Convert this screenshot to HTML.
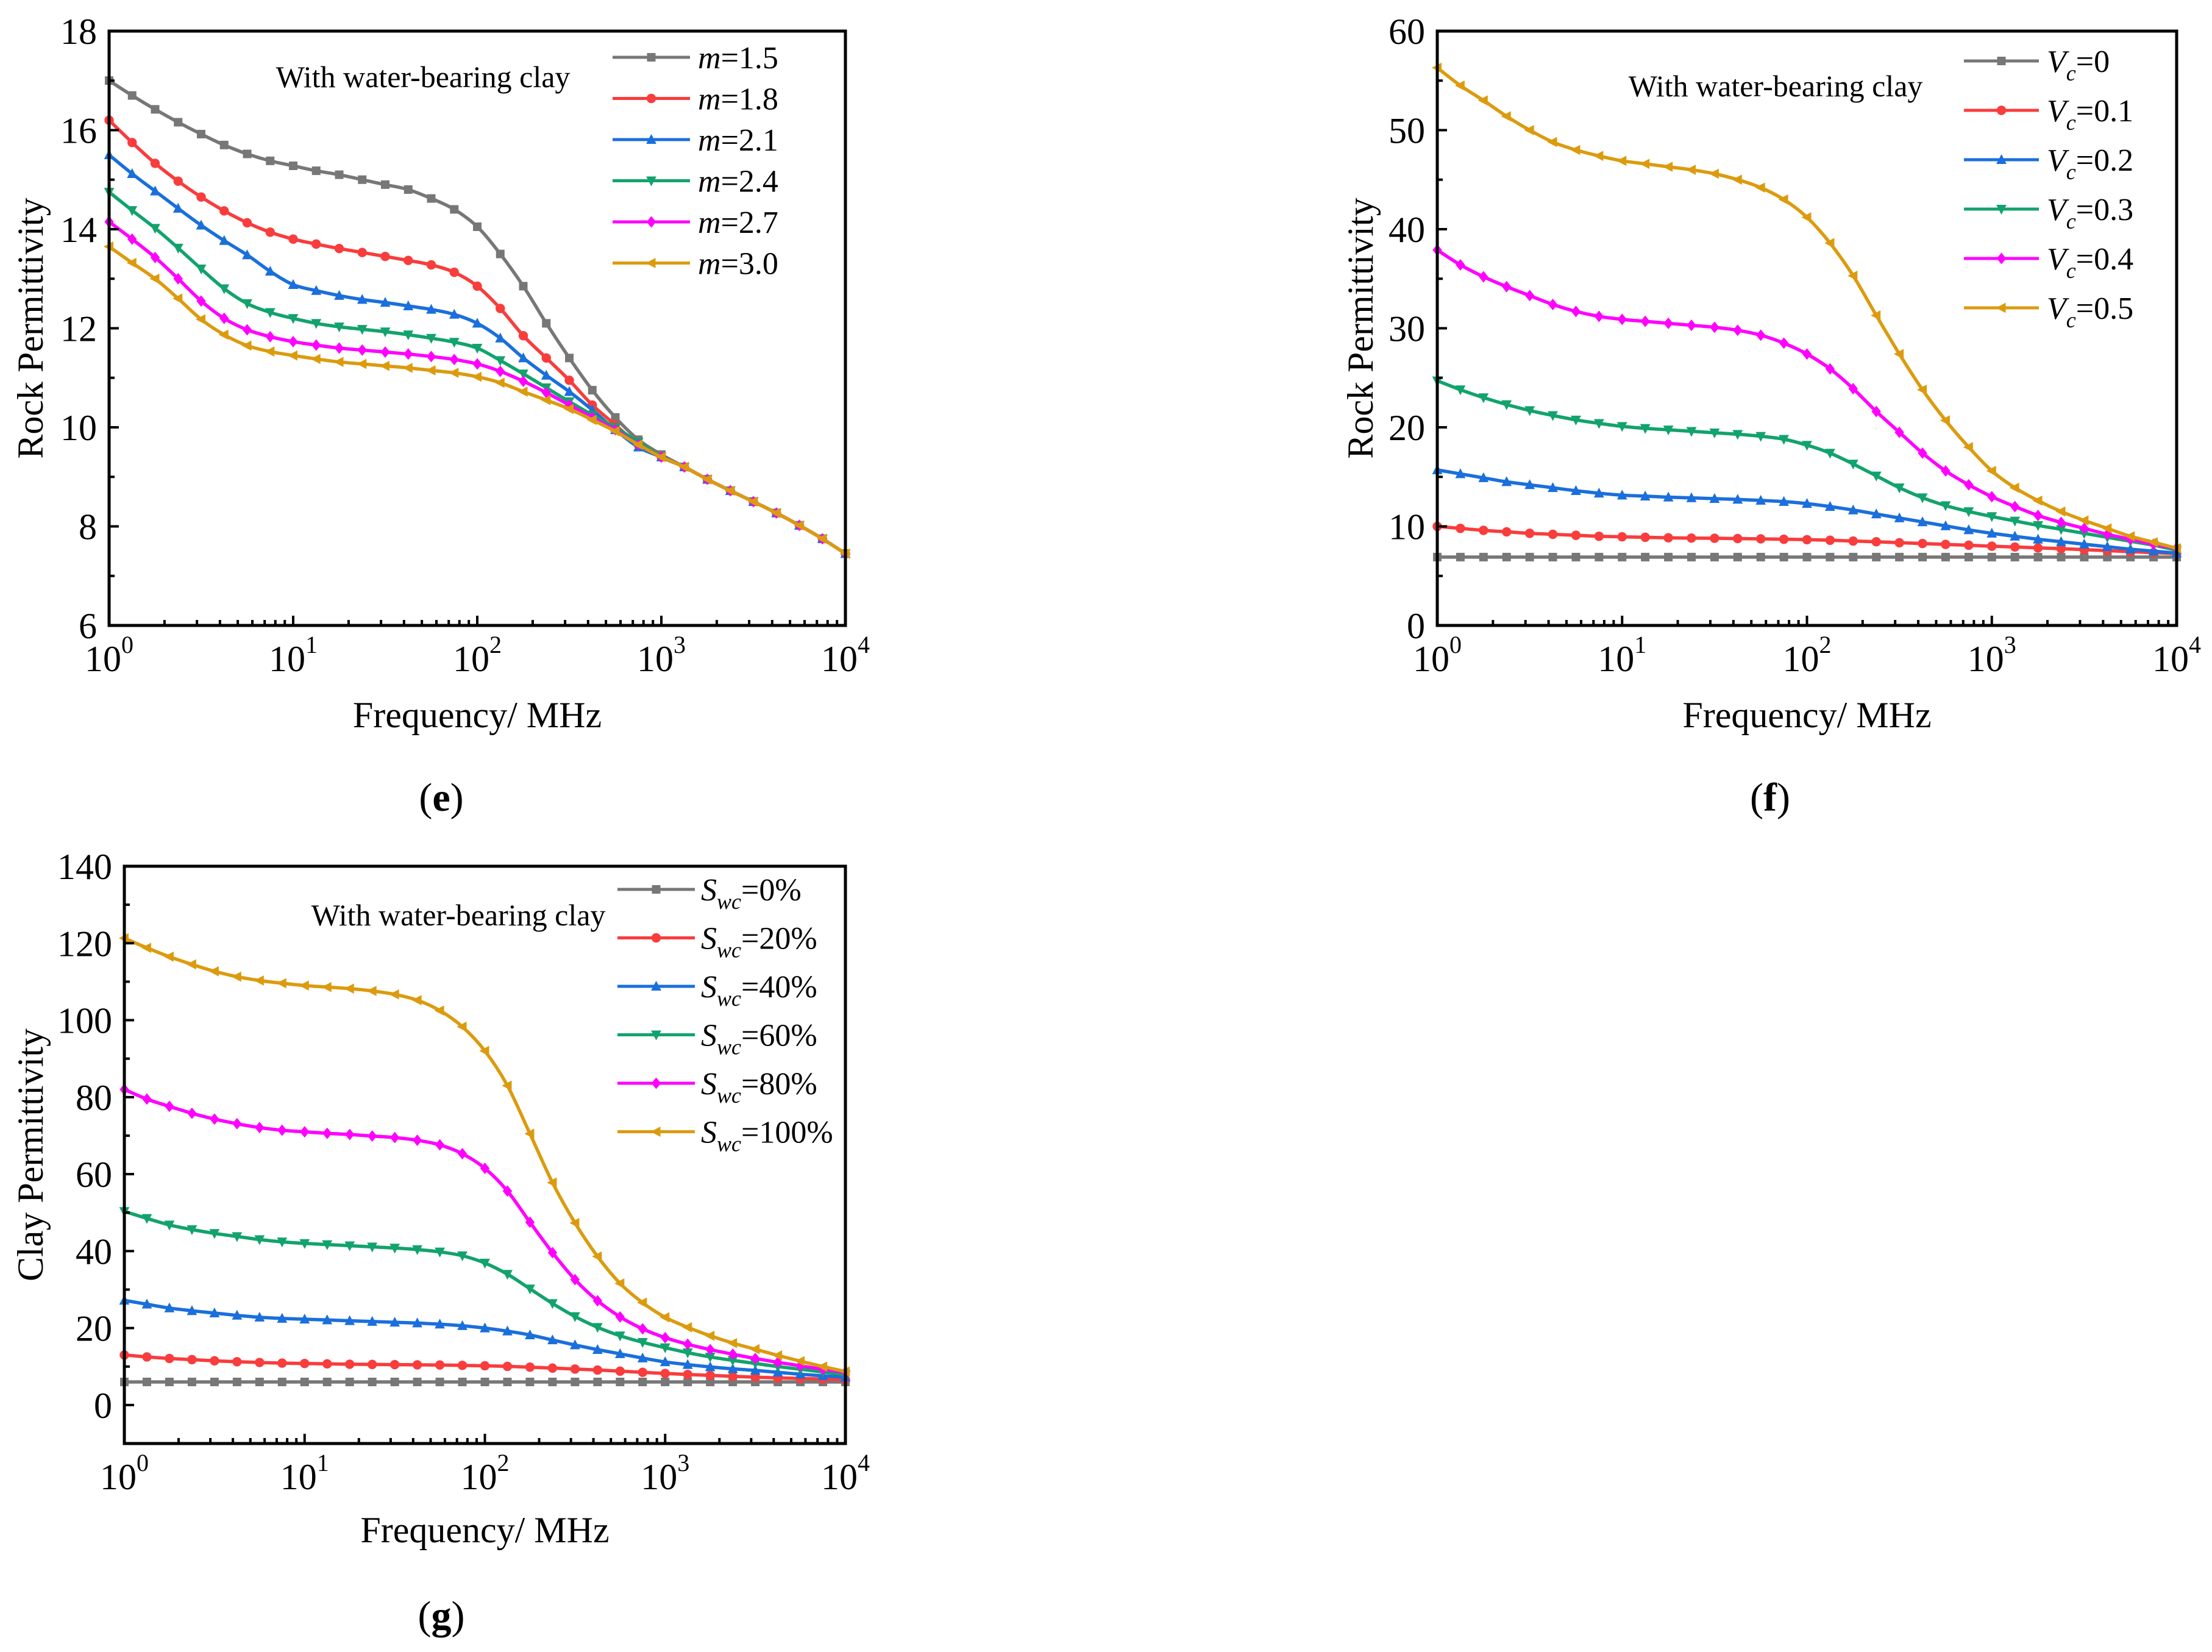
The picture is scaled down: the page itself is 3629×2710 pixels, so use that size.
<!DOCTYPE html>
<html><head><meta charset="utf-8"><style>
html,body{margin:0;padding:0;background:#fff;}
svg{display:block;font-family:"Liberation Serif","Times New Roman",serif;}
</style></head><body>
<svg id="fig" width="3629" height="2710" viewBox="0 0 3629 2710" xmlns="http://www.w3.org/2000/svg"></svg>
<script>
// frequency exponents (log10 MHz) of data points
const freqExp = [0,0.125,0.25,0.375,0.5,0.625,0.75,0.875,1,1.125,1.25,1.375,1.5,1.625,1.75,1.875,2,2.125,2.25,2.375,2.5,2.625,2.75,2.875,3,3.125,3.25,3.375,3.5,3.625,3.75,3.875,4];
const xTickExp = [0,1,2,3,4];

// Panel e
const eLabels = ["1.5","1.8","2.1","2.4","2.7","3.0"];
const eM15 = [17.0,16.7,16.42,16.16,15.92,15.7,15.52,15.38,15.28,15.18,15.1,15.0,14.9,14.8,14.62,14.4,14.05,13.5,12.85,12.1,11.4,10.75,10.2,9.75,9.45,9.2,8.95,8.72,8.5,8.27,8.02,7.75,7.45];
const eM18 = [16.2,15.75,15.33,14.97,14.65,14.37,14.13,13.94,13.8,13.7,13.61,13.53,13.45,13.37,13.28,13.13,12.85,12.4,11.85,11.4,10.95,10.45,10.05,9.65,9.4,9.2,8.95,8.72,8.5,8.27,8.02,7.75,7.45];
const eM21 = [15.5,15.12,14.77,14.42,14.08,13.77,13.48,13.15,12.88,12.76,12.66,12.58,12.52,12.45,12.38,12.28,12.1,11.8,11.4,11.05,10.72,10.35,9.95,9.6,9.4,9.2,8.95,8.72,8.5,8.27,8.02,7.75,7.45];
const eM24 = [14.75,14.38,14.02,13.62,13.2,12.8,12.5,12.32,12.2,12.1,12.03,11.98,11.93,11.87,11.8,11.72,11.6,11.35,11.08,10.8,10.52,10.25,10.0,9.7,9.4,9.2,8.95,8.72,8.5,8.27,8.02,7.75,7.45];
const eM27 = [14.15,13.8,13.43,13.0,12.55,12.2,11.97,11.83,11.73,11.66,11.6,11.56,11.52,11.48,11.43,11.37,11.28,11.13,10.93,10.7,10.45,10.2,9.95,9.65,9.4,9.2,8.95,8.72,8.5,8.27,8.02,7.75,7.45];
const eM30 = [13.65,13.32,13.0,12.6,12.18,11.87,11.65,11.53,11.45,11.38,11.32,11.28,11.24,11.2,11.15,11.1,11.02,10.9,10.72,10.55,10.37,10.15,9.92,9.65,9.4,9.2,8.95,8.72,8.5,8.27,8.02,7.75,7.45];
const eYTicks = [6,8,10,12,14,16,18];

// Panel f
const fLabels = ["0","0.1","0.2","0.3","0.4","0.5"];
const fV0 = [6.9,6.9,6.9,6.9,6.9,6.9,6.9,6.9,6.9,6.9,6.9,6.9,6.9,6.9,6.9,6.9,6.9,6.9,6.9,6.9,6.9,6.9,6.9,6.9,6.9,6.9,6.9,6.9,6.9,6.9,6.9,6.9,6.9];
const fV1 = [10.0,9.8,9.6,9.45,9.3,9.2,9.1,9.0,8.95,8.9,8.85,8.82,8.8,8.77,8.74,8.7,8.66,8.6,8.52,8.45,8.35,8.27,8.18,8.1,8.0,7.92,7.83,7.75,7.65,7.55,7.45,7.35,7.25];
const fV2 = [15.7,15.3,14.9,14.5,14.2,13.9,13.6,13.35,13.15,13.05,12.95,12.88,12.8,12.72,12.62,12.5,12.3,12.0,11.65,11.25,10.85,10.45,10.05,9.65,9.3,9.0,8.7,8.45,8.2,7.95,7.7,7.5,7.3];
const fV3 = [24.7,23.8,23.0,22.3,21.7,21.2,20.75,20.4,20.1,19.9,19.75,19.6,19.45,19.3,19.1,18.8,18.2,17.4,16.3,15.1,13.9,12.9,12.1,11.5,11.0,10.55,10.1,9.7,9.3,8.9,8.5,8.1,7.6];
const fV4 = [37.9,36.4,35.2,34.2,33.3,32.4,31.7,31.2,30.9,30.7,30.5,30.3,30.1,29.8,29.3,28.5,27.4,25.9,23.9,21.6,19.5,17.4,15.6,14.2,13.0,12.0,11.1,10.4,9.8,9.2,8.7,8.2,7.8];
const fV5 = [56.3,54.5,53.0,51.4,50.0,48.8,48.0,47.4,46.9,46.6,46.3,46.0,45.6,45.0,44.2,43.0,41.2,38.6,35.3,31.3,27.4,23.8,20.7,18.0,15.6,13.9,12.6,11.5,10.6,9.8,9.0,8.4,7.8];
const fYTicks = [0,10,20,30,40,50,60];

// Panel g
const gLabels = ["0%","20%","40%","60%","80%","100%"];
const gS0 = [6.0,6.0,6.0,6.0,6.0,6.0,6.0,6.0,6.0,6.0,6.0,6.0,6.0,6.0,6.0,6.0,6.0,6.0,6.0,6.0,6.0,6.0,6.0,6.0,6.0,6.0,6.0,6.0,6.0,6.0,6.0,6.0,6.0];
const gS20 = [13.0,12.5,12.1,11.8,11.5,11.25,11.05,10.9,10.8,10.7,10.6,10.55,10.5,10.45,10.4,10.3,10.2,10.05,9.85,9.6,9.35,9.1,8.8,8.5,8.2,7.95,7.7,7.45,7.25,7.05,6.9,6.75,6.6];
const gS40 = [27.2,26.2,25.2,24.5,23.9,23.3,22.8,22.5,22.3,22.1,21.9,21.7,21.5,21.3,21.0,20.6,20.0,19.2,18.2,16.9,15.6,14.4,13.3,12.2,11.2,10.5,9.9,9.4,9.0,8.5,8.0,7.6,7.2];
const gS60 = [50.3,48.5,46.8,45.6,44.6,43.8,43.0,42.4,42.0,41.7,41.4,41.1,40.8,40.4,39.8,38.8,36.9,34.0,30.2,26.4,23.0,20.2,18.0,16.3,14.9,13.6,12.5,11.6,10.8,10.0,9.3,8.6,7.9];
const gS80 = [82.0,79.5,77.6,75.8,74.3,73.1,72.1,71.4,71.0,70.6,70.3,69.9,69.5,68.8,67.6,65.3,61.5,55.6,47.5,39.6,32.6,27.1,22.9,19.8,17.5,15.8,14.4,13.2,12.1,11.1,10.2,9.3,8.5];
const gS100 = [121.3,118.8,116.5,114.5,112.7,111.3,110.3,109.6,109.0,108.6,108.2,107.6,106.7,105.2,102.5,98.3,92.0,83.0,70.5,57.8,47.3,38.6,31.6,26.6,22.8,20.2,18.0,16.1,14.5,12.9,11.4,10.0,8.7];
const gYTicks = [0,20,40,60,80,100,120,140];

const colors = ["#777777","#f93c3c","#1a6fdc","#12a36c","#ff00ff","#dc9b0e"];
const shapes = ["square","circle","up","down","diamond","left"];
const NS = "http://www.w3.org/2000/svg";
const svg = document.getElementById('fig');

function mk(tag, attrs, parent){
  const el = document.createElementNS(NS, tag);
  for (const k in attrs) el.setAttribute(k, attrs[k]);
  (parent||svg).appendChild(el);
  return el;
}

function marker(g, shape, x, y, c, r){
  let el;
  if (shape==="square") el = mk('rect',{x:x-r,y:y-r,width:2*r,height:2*r,fill:c},g);
  else if (shape==="circle") el = mk('circle',{cx:x,cy:y,r:r*1.1,fill:c},g);
  else if (shape==="up") el = mk('polygon',{points:`${x},${y-r*1.3} ${x-r*1.2},${y+r} ${x+r*1.2},${y+r}`,fill:c},g);
  else if (shape==="down") el = mk('polygon',{points:`${x},${y+r*1.3} ${x-r*1.2},${y-r} ${x+r*1.2},${y-r}`,fill:c},g);
  else if (shape==="diamond") el = mk('polygon',{points:`${x},${y-r*1.35} ${x+r*1.1},${y} ${x},${y+r*1.35} ${x-r*1.1},${y}`,fill:c},g);
  else el = mk('polygon',{points:`${x-r*1.3},${y} ${x+r},${y-r*1.2} ${x+r},${y+r*1.2}`,fill:c},g);
  
  
  return el;
}

function smoothPath(pts){
  let d = `M${pts[0][0]},${pts[0][1]}`;
  for (let i=0;i<pts.length-1;i++){
    const p0=pts[Math.max(0,i-1)], p1=pts[i], p2=pts[i+1], p3=pts[Math.min(pts.length-1,i+2)];
    const c1x=p1[0]+(p2[0]-p0[0])/6, c1y=p1[1]+(p2[1]-p0[1])/6;
    const c2x=p2[0]-(p3[0]-p1[0])/6, c2y=p2[1]-(p3[1]-p1[1])/6;
    d += ` C${c1x.toFixed(1)},${c1y.toFixed(1)} ${c2x.toFixed(1)},${c2y.toFixed(1)} ${p2[0].toFixed(1)},${p2[1].toFixed(1)}`;
  }
  return d;
}

function panel(cfg){
  const g = mk('g',{});
  
  
  const {L,R,T,B,ymin,ymax} = cfg;
  const xs = e => L + (e-0)/(4-0)*(R-L);
  const ys = v => B - (v-ymin)/(ymax-ymin)*(B-T);
  const sg = mk('g',{},g);
  
  
  cfg.series.forEach((s,i)=>{
    const pts = freqExp.map((e,j)=>[xs(e), ys(s[j])]);
    const p = mk('path',{d:smoothPath(pts),fill:'none',stroke:colors[i],'stroke-width':5.5,'stroke-linejoin':'round'},sg);
    
    
    pts.forEach(pt=>marker(sg,shapes[i],pt[0],pt[1],colors[i],7));
  });
  const fr = mk('rect',{x:L,y:T,width:R-L,height:B-T,fill:'none',stroke:'#000','stroke-width':5},g);
  
  
  const yt = cfg.yTicks;
  yt.forEach((v,i)=>{
    const y = ys(v);
    const t = mk('line',{x1:L,x2:L+16,y1:y,y2:y,stroke:'#000','stroke-width':4},g);
    
    
    const lb = mk('text',{x:L-20,y:y+21,'text-anchor':'end','font-size':60},g);
    lb.textContent = v;
    
    
    if (i<yt.length-1){
      const ym = ys((v+yt[i+1])/2);
      const mt = mk('line',{x1:L,x2:L+9,y1:ym,y2:ym,stroke:'#000','stroke-width':4},g);
      
      
    }
  });
  if (cfg.extraMinorBelow){
    const ym = ys(yt[0]-(yt[1]-yt[0])/2);
    const mt = mk('line',{x1:L,x2:L+9,y1:ym,y2:ym,stroke:'#000','stroke-width':4},g);
    
    
  }
  xTickExp.forEach((e,i)=>{
    const x = xs(e);
    const t = mk('line',{x1:x,x2:x,y1:B,y2:B-16,stroke:'#000','stroke-width':4},g);
    
    
    const lb = mk('text',{x:x,y:B+75,'text-anchor':'middle','font-size':60},g);
    
    
    const a = mk('tspan',{},lb); a.textContent='10';
    const b = mk('tspan',{dy:-30,'font-size':40}); lb.appendChild(b); b.textContent=String(e);
    if (i<xTickExp.length-1){
      for (let k=2;k<=9;k++){
        const xm = xs(e+Math.log10(k));
        const mt = mk('line',{x1:xm,x2:xm,y1:B,y2:B-9,stroke:'#000','stroke-width':4},g);
        
        
      }
    }
  });
  const xt = mk('text',{x:(L+R)/2,y:cfg.xTitleY,'text-anchor':'middle','font-size':60},g);
  xt.textContent='Frequency/ MHz';
  
  
  const yc = (T+B)/2;
  const ytt = mk('text',{x:cfg.yTitleX,y:yc,'text-anchor':'middle','font-size':60,transform:`rotate(-90 ${cfg.yTitleX} ${yc})`},g);
  ytt.textContent=cfg.yTitle;
  
  
  const an = mk('text',{x:cfg.annX,y:cfg.annY,'text-anchor':'middle','font-size':50},g);
  an.textContent='With water-bearing clay';
  
  
  const lg = mk('g',{},g);
  
  
  cfg.labels.forEach((lab,i)=>{
    const y = cfg.legY + i*cfg.legStep;
    const en = mk('g',{},lg);
    
    
    mk('line',{x1:cfg.legX1,x2:cfg.legX2,y1:y,y2:y,stroke:colors[i],'stroke-width':5},en);
    marker(en,shapes[i],(cfg.legX1+cfg.legX2)/2,y,colors[i],7);
    const tx = mk('text',{x:cfg.legTX,y:y+18,'font-size':52},en);
    const v = mk('tspan',{'font-style':'italic'},tx); v.textContent=cfg.sym;
    if (cfg.sub){ const s = mk('tspan',{'font-style':'italic','font-size':36,dy:14},tx); s.textContent=cfg.sub;
      const r = mk('tspan',{dy:-14},tx); r.textContent='='+lab; }
    else { const r = mk('tspan',{},tx); r.textContent='='+lab; }
  });
  const pl = mk('text',{x:cfg.plX,y:cfg.plY,'text-anchor':'middle','font-size':66},g);
  
  
  const p1 = mk('tspan',{},pl); p1.textContent='(';
  const p2 = mk('tspan',{'font-weight':'bold'},pl); p2.textContent=cfg.letter;
  const p3 = mk('tspan',{},pl); p3.textContent=')';
}

panel({name:'panel-e',L:179,R:1387,T:51,B:1026,ymin:6,ymax:18,yTicks:eYTicks,
  series:[eM15,eM18,eM21,eM24,eM27,eM30],labels:eLabels,sym:'m',sub:null,
  xTitleY:1193,yTitleX:70,yTitle:'Rock Permittivity',annX:694,annY:143,
  legX1:1005,legX2:1132,legY:94,legStep:67.5,legTX:1145,plX:724,plY:1330,letter:'e'});
panel({name:'panel-f',L:2358,R:3571,T:51,B:1026,ymin:0,ymax:60,yTicks:fYTicks,
  series:[fV0,fV1,fV2,fV3,fV4,fV5],labels:fLabels,sym:'V',sub:'c',
  xTitleY:1193,yTitleX:2252,yTitle:'Rock Permittivity',annX:2913,annY:158,
  legX1:3222,legX2:3345,legY:100,legStep:81,legTX:3358,plX:2904,plY:1330,letter:'f'});
panel({name:'panel-g',L:204,R:1387,T:1421,B:2368,ymin:-10,ymax:140,yTicks:gYTicks,extraMinorBelow:true,
  series:[gS0,gS20,gS40,gS60,gS80,gS100],labels:gLabels,sym:'S',sub:'wc',
  xTitleY:2530,yTitleX:70,yTitle:'Clay Permittivity',annX:752,annY:1518,
  legX1:1013,legX2:1140,legY:1459,legStep:79.5,legTX:1150,plX:724,plY:2672,letter:'g'});
</script>
</body></html>
